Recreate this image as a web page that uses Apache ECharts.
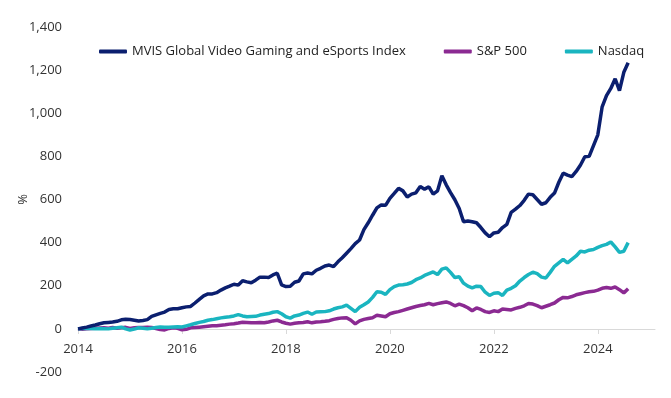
<!DOCTYPE html>
<html>
<head>
<meta charset="utf-8">
<script src="https://cdn.jsdelivr.net/npm/echarts@6/dist/echarts.min.js"></script>
<style>
  html, body { margin: 0; padding: 0; background: #fff; }
  #chart { width: 671px; height: 398px; }
</style>
</head>
<body>
<div id="chart"></div>
<script>
// monthly observations, first point = Jan 2014
const startYear = 2014
const seriesNames = ['MVIS Global Video Gaming and eSports Index', 'S&P 500', 'Nasdaq']
const yearTicks = [2014, 2016, 2018, 2020, 2022, 2024]

const mvis = [
  0, 4, 8, 13, 18, 24, 28, 30, 32, 35, 42, 45,
  43, 40, 37, 39, 43, 58, 65, 72, 78, 90, 93, 93,
  98, 102, 104, 120, 137, 153, 162, 162, 168, 180, 190, 198,
  207, 203, 223, 218, 214, 226, 240, 240, 238, 250, 258, 204,
  196, 198, 216, 222, 255, 259, 255, 272, 281, 292, 296, 289,
  311, 330, 351, 372, 395, 412, 460, 492, 527, 561, 575, 573,
  605, 628, 652, 640, 612, 625, 631, 660, 648, 659, 625, 640,
  710, 668, 632, 599, 558, 497, 500, 497, 492, 470, 445, 427,
  445, 448, 470, 485, 540, 555, 572, 596, 625, 622, 600, 578,
  585, 610, 630, 680, 722, 713, 706, 730, 760, 798, 800, 850,
  900, 1030, 1082, 1115, 1160, 1105, 1190, 1234
]

const sp500 = [
  0, -2, 0, 2, 3, 4, 5, 3, 6, 3, 5, 7,
  2, 5, 6, 6, 7, 6, 2, -3, -5, 2, 5, 3,
  -4, -2, 5, 6, 8, 10, 12, 14, 15, 17, 19, 22,
  24, 27, 31, 30, 28, 28, 30, 28, 32, 37, 40, 32,
  26, 22, 26, 28, 30, 33, 28, 32, 33, 35, 38, 44,
  48, 51, 52, 40, 23, 37, 44, 48, 52, 63, 60, 56,
  70, 76, 80, 86, 92, 98, 104, 108, 112, 118, 112, 117,
  121, 125, 118, 107, 115, 108, 98, 84, 97, 90, 80, 76,
  84, 80, 92, 90, 88, 95, 100, 107, 118, 115, 108, 98,
  105, 112, 120, 135, 146, 144, 150, 158, 163, 168, 172, 174,
  180, 188, 192, 188, 194, 182, 167, 186
]

const nasdaq = [
  0, 2, 3, 2, 0, 2, 1, 0, 3, 5, 8, 0,
  -5, -1, 5, 3, 0, 3, 6, 9, 8, 7, 9, 10,
  9, 14, 19, 25, 30, 34, 40, 43, 47, 51, 54, 56,
  60, 66, 60, 56, 57, 58, 64, 68, 71, 77, 80, 70,
  56, 50, 60, 64, 72, 78, 68, 78, 79, 80, 84, 92,
  98, 102, 110, 95, 80, 100, 112, 125, 146, 172, 170, 160,
  182, 196, 203, 205, 208, 215, 228, 236, 248, 256, 264, 252,
  277, 283, 262, 238, 242, 212, 198, 190, 198, 196, 170, 155,
  165, 168, 155, 180, 188, 200, 222, 238, 252, 263, 256, 240,
  236, 262, 290, 306, 322, 306, 322, 338, 360, 357, 365, 368,
  378, 386, 392, 403, 380, 355, 360, 400
]

const colors = ['#0b1f6f', '#8b2a92', '#1ab5c0']

const toPairs = arr => arr.map((v, i) => [startYear + i / 12, v])

const chart = echarts.init(document.getElementById('chart'))
chart.setOption({
  animation: false,
  color: colors,
  textStyle: { fontFamily: 'Open Sans' },
  grid: { left: 78, right: 16, top: 27, bottom: 26 },
  legend: {
    top: 40,
    left: 94,
    itemWidth: 28,
    itemHeight: 4,
    itemGap: 38,
    icon: 'roundRect',
    textStyle: { fontSize: 13, color: '#222' },
    data: seriesNames
  },
  xAxis: {
    type: 'value',
    min: 2014,
    max: 2025.1,
    interval: 2,
    // sit the axis on the zero line (grid height 345px spans 1600 units)
    offset: -43,
    axisLine: { onZero: false, lineStyle: { color: '#d9d9d9', width: 1 } },
    axisTick: { show: true, length: 5, lineStyle: { color: '#d9d9d9' } },
    splitLine: { show: false },
    axisLabel: {
      fontSize: 13,
      color: '#333',
      margin: 14,
      showMaxLabel: false,
      formatter: v => (yearTicks.includes(v) ? String(v) : '')
    }
  },
  yAxis: {
    type: 'value',
    min: -200,
    max: 1400,
    interval: 200,
    name: '%',
    nameLocation: 'middle',
    nameRotate: 90,
    nameGap: 48,
    nameMoveOverlap: false,
    nameTextStyle: { fontSize: 13, color: '#333' },
    axisLine: { show: false },
    axisTick: { show: false },
    splitLine: { show: false },
    axisLabel: {
      fontSize: 13,
      color: '#333',
      margin: 16,
      formatter: v => v.toLocaleString('en-US')
    }
  },
  series: [
    { name: seriesNames[0], type: 'line', data: toPairs(mvis), showSymbol: false, lineStyle: { width: 3.5 }, z: 3 },
    { name: seriesNames[1], type: 'line', data: toPairs(sp500), showSymbol: false, lineStyle: { width: 3.5 }, z: 1 },
    { name: seriesNames[2], type: 'line', data: toPairs(nasdaq), showSymbol: false, lineStyle: { width: 3.5 }, z: 2 }
  ]
})
</script>
</body>
</html>
